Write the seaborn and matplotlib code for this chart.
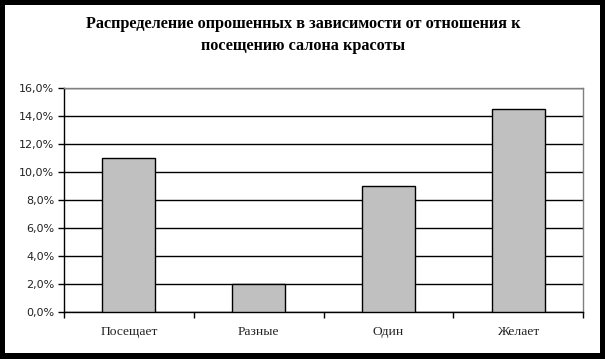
import matplotlib
matplotlib.use("Agg")
import matplotlib.pyplot as plt
import matplotlib.patches as mpatches
from matplotlib.ticker import FuncFormatter, FixedLocator, NullFormatter
import seaborn as sns
import pandas as pd

categories = ["Посещает", "Разные", "Один", "Желает"]
values = [11.0, 2.0, 9.0, 14.5]
title = "Распределение опрошенных в зависимости от отношения к\nпосещению салона красоты"

df = pd.DataFrame({"cat": categories, "val": values})

sns.set_style("white")
W, H = 605, 359
fig = plt.figure(figsize=(W / 100, H / 100), dpi=100, facecolor="black")
# white inner area with black frame
fig.patches.append(mpatches.Rectangle((5 / W, 6 / H), (600 - 5) / W, (354 - 6) / H,
                                      transform=fig.transFigure, facecolor="white",
                                      edgecolor="none", zorder=-10))
ax = fig.add_axes([64 / W, (H - 312) / H, (583 - 64) / W, (312 - 88) / H])
ax.set_zorder(5)

sns.barplot(data=df, x="cat", y="val", ax=ax, color="#C0C0C0", edgecolor="black",
            linewidth=1.0, width=0.41, saturation=1, zorder=3)

ax.set_ylim(0, 16)
ax.set_xlim(-0.5, 3.5)
ax.set_yticks([0, 2, 4, 6, 8, 10, 12, 14, 16])
ax.yaxis.set_major_formatter(FuncFormatter(lambda v, p: f"{v:.1f}%".replace(".", ",")))
ax.grid(axis="y", color="black", linewidth=1.0, zorder=0)
ax.set_axisbelow(True)

ax.xaxis.set_major_locator(FixedLocator([-0.5, 0.5, 1.5, 2.5, 3.5]))
ax.xaxis.set_major_formatter(NullFormatter())
ax.xaxis.set_minor_locator(FixedLocator([0, 1, 2, 3]))
ax.set_xticklabels(categories, minor=True)
ax.tick_params(axis="x", which="major", direction="out", length=4, width=1, color="black", bottom=True)
ax.tick_params(axis="x", which="minor", length=0, pad=10)
ax.tick_params(axis="y", direction="out", length=4, width=1, color="black", left=True, pad=3)
for lab in ax.get_xticklabels(minor=True):
    lab.set_fontfamily("Liberation Serif")
    lab.set_fontsize(9.7)
    lab.set_color("#222222")
for lab in ax.get_yticklabels():
    lab.set_fontfamily("DejaVu Sans")
    lab.set_fontsize(8)
    lab.set_color("#222222")

ax.set_xlabel("")
ax.set_ylabel("")
for s in ["left", "bottom"]:
    ax.spines[s].set_color("black")
    ax.spines[s].set_linewidth(1.0)
for s in ["top", "right"]:
    ax.spines[s].set_color("#808080")
    ax.spines[s].set_linewidth(1.0)
    ax.spines[s].set_visible(True)

fig.text(303 / W, 1 - 35 / H, title, ha="center", va="center",
         fontfamily="Liberation Serif", fontweight="bold", fontsize=11.7,
         linespacing=1.5, color="black")

fig.savefig("out.png", dpi=100, facecolor=fig.get_facecolor())
